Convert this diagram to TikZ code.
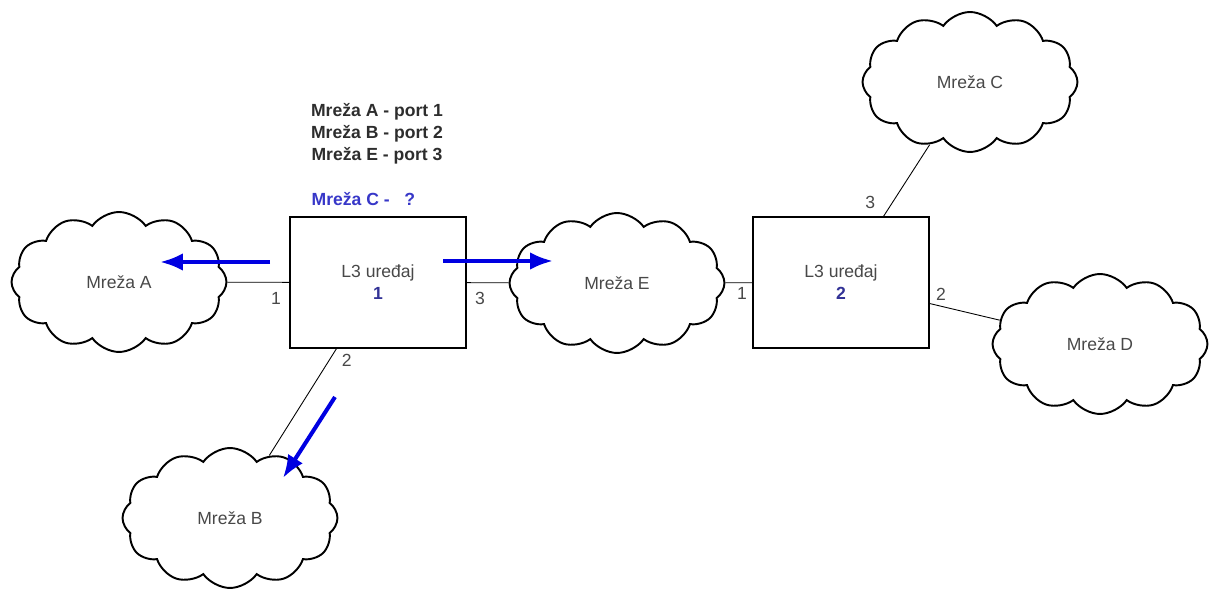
\documentclass[tikz,border=0pt]{standalone}
\usepackage{fontspec}
\setmainfont{Liberation Sans}
\usepackage{tikz}
\usetikzlibrary{shapes.symbols, positioning, arrows.meta}
\usepackage{xcolor}
\definecolor{textgray}{RGB}{72,72,72}
\definecolor{infogray}{RGB}{45,45,45}
\definecolor{askblue}{RGB}{55,55,200}
\definecolor{numblue}{RGB}{50,50,150}
\definecolor{flowblue}{RGB}{0,0,225}

\begin{document}
\begin{tikzpicture}[x=0.02cm, y=-0.02cm,
    font=\fontsize{10}{12.5}\selectfont,
    net/.style={cloud, cloud puffs=12, cloud puff arc=110,
        draw=black, line width=1.1pt,
        minimum width=4.3cm, minimum height=2.8cm,
        inner sep=0pt, text=textgray},
    device/.style={rectangle, draw=black, line width=0.8pt,
        minimum width=3.52cm, minimum height=2.62cm,
        align=center, text=textgray},
    port/.style={inner sep=0pt, text=textgray}]
    \useasboundingbox (0,0) rectangle (1210,590);
    % Add the networks
        \node[net] (netA) at (119,282) {Mreža A};
        \node[net] (netB) at (230,518) {Mreža B};
        \node[net] (netC) at (970,82) {Mreža C};
        \node[net] (netD) at (1100,344) {Mreža D};
        \node[net] (netE) at (617,283) {Mreža E};
    % Add the devices
        \node[device] (dev1) at (378,282.5)
            {L3 uređaj\\{\bfseries\color{numblue}1}};
        \node[device] (dev2) at (841,282.5)
            {L3 uređaj\\{\bfseries\color{numblue}2}};
    % Port numbers
        \node[port,
            below left=0.2cm and 0.16cm of dev1.west
            ] (p11) {1};
        \node[port,
            below left=0.11cm and 0.52cm of dev1.south
            ] (p12) {2};
        \node[port,
            below right=0.18cm and 0.16cm of dev1.east
            ] (p13) {3};
        \node[port,
            below left=0.1cm and 0.1cm of dev2.west
            ] (p21) {1};
        \node[port,
            below right=0.1cm and 0.12cm of dev2.east
            ] (p22) {2};
        \node[port,
            above right=0.15cm and 0.48cm of dev2.north
            ] (p23) {3};
    % Routing table of device 1
        \node[inner sep=0pt,
            text=askblue,
            font=\fontsize{10}{12.5}\selectfont\bfseries,
            above right=0.2cm and 0.44cm of dev1.north west
            ] (ask) {Mreža C -\ \ \ ?};
        \node[align=center,
            text=infogray,
            font=\fontsize{10}{12.5}\selectfont\bfseries
            ] (table) at (377,134)
            {Mreža A - port 1\\Mreža B - port 2\\Mreža E - port 3};
    % Arrow ends
        \coordinate (fa0) at (270,262);
        \coordinate (fa1) at (160,262);
        \coordinate (fe0) at (443,261);
        \coordinate (fe1) at (553,261);
        \coordinate (fb0) at (335,397);
        \coordinate (fb1) at (283,478);

       \draw[line width=0.5pt]
            (netA) edge (dev1)
            (dev1) edge (netE)
            (dev1) edge (netB)
            (netE) edge (dev2)
            (dev2) edge (netC)
            (dev2) edge (netD)
            ;
       \draw[>={Latex[length=13pt,width=10pt]},
            line width=2.3pt,
            draw=flowblue,
            fill=flowblue]
            (fa0) edge[->] (fa1)
            (fe0) edge[->] (fe1)
            (fb0) edge[->] (fb1)
            ;
\end{tikzpicture}
\end{document}
